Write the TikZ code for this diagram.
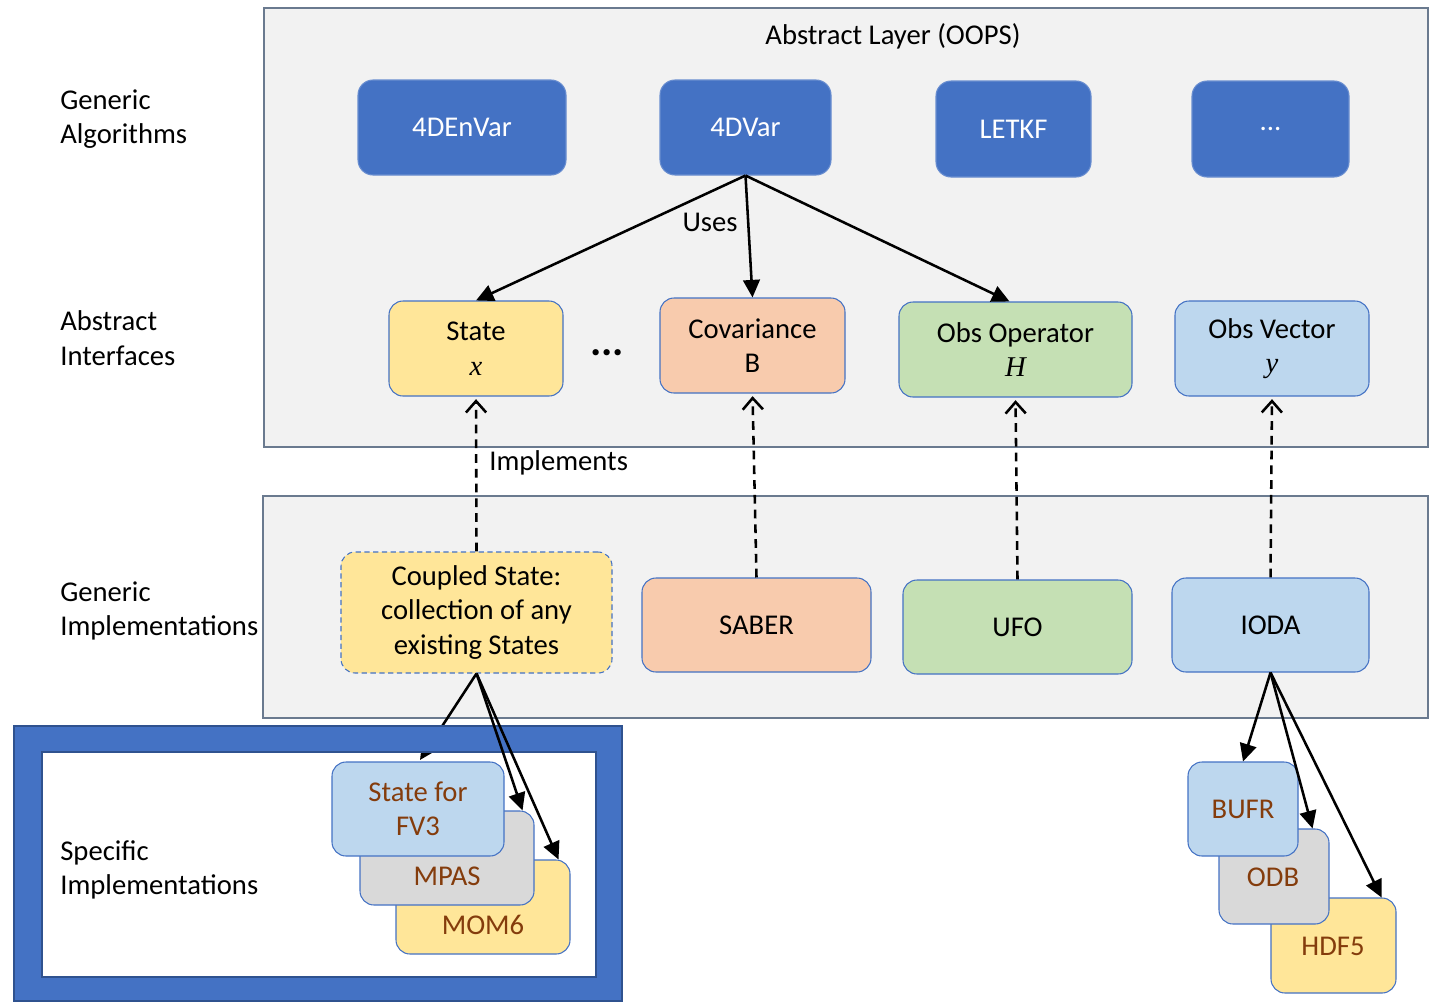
\documentclass[tikz,border=0pt]{standalone}
\usepackage{fontspec}
\setmainfont{Carlito}
\newfontfamily\serifmath{Liberation Serif}
\newcommand\mv[1]{{\serifmath\itshape #1}}
\usetikzlibrary{arrows.meta,calc}
\definecolor{blueA}{HTML}{4472C4}
\definecolor{blueD}{HTML}{2F528F}
\definecolor{yellowF}{HTML}{FFE699}
\definecolor{orangeF}{HTML}{F8CBAD}
\definecolor{greenF}{HTML}{C5E0B4}
\definecolor{lblueF}{HTML}{BDD7EE}
\definecolor{grayF}{HTML}{D9D9D9}
\definecolor{brownT}{HTML}{843C0C}
\definecolor{panelF}{HTML}{F2F2F2}
\definecolor{panelD}{HTML}{6A7A8F}
\begin{document}
\begin{tikzpicture}[x=0.02cm,y=-0.02cm,
  every node/.style={font=\fontsize{16.3}{19.6}\selectfont},
  sz/.style 2 args={minimum width=#1*0.02cm, minimum height=#2*0.02cm},
  panel/.style={draw=panelD, line width=0.8pt, fill=panelF, inner sep=0pt},
  algbox/.style={draw=blueA!80!white, line width=0.6pt, fill=blueA, text=white, rounded corners=0.3cm, inner sep=0pt, align=center},
  ifbox/.style={draw=blueA, line width=0.6pt, rounded corners=0.28cm, inner sep=0pt, align=center},
  specbox/.style={draw=blueA, line width=0.6pt, rounded corners=0.28cm, inner sep=0pt, align=center, text=brownT},
  lbl/.style={anchor=west, align=left, inner sep=0pt},
  usesarrow/.style={line width=1.45pt, -{Triangle[length=10pt,width=9.5pt]}},
  implarrow/.style={line width=1.45pt, dash pattern=on 5pt off 3.4pt, -{Straight Barb[length=6.5pt,width=11.5pt]}, shorten >=1.5pt}
]
\useasboundingbox (0,0) rectangle (1435,1001);

% panels
\node[panel, sz={1164}{439}] (toppanel) at (846,227.5) {};
\node[panel, sz={1165}{222}] (midpanel) at (845.5,607) {};

% title and side labels
\node (title) at (893,36) {Abstract Layer (OOPS)};
\node[lbl] (lga) at (60,119) {Generic\\Algorithms};
\node[lbl] (lai) at (60,338) {Abstract\\Interfaces};
\node[lbl] (lgi) at (60,611) {Generic\\Implementations};

% algorithm boxes
\node[algbox, sz={208}{95}] (envar) at (462,127.5) {4DEnVar};
\node[algbox, sz={171}{95}] (dvar) at (745.5,127.5) {4DVar};
\node[algbox, sz={155}{96}] (letkf) at (1013.5,129) {LETKF};
\node[algbox, sz={157}{96}] (more) at (1270.5,129) {...};

% interface boxes
\node[ifbox, fill=yellowF, sz={174}{95}] (state) at (476,348.5) {State\\\mv{x}};
\node[ifbox, fill=orangeF, sz={185}{95}] (cov) at (752.5,345.5) {Covariance\\B};
\node[ifbox, fill=greenF, sz={233}{95}] (obsop) at (1015.5,349.5) {Obs Operator\\\mv{H}};
\node[ifbox, fill=lblueF, sz={194}{95}] (obsvec) at (1272,348.5) {Obs Vector\\\mv{y}};
\node (dots) at (607,353) {\fontsize{24}{24}\selectfont\textbf{...}};

% uses arrows
\draw[usesarrow] (dvar.south) -- (state.north);
\draw[usesarrow] (dvar.south) -- (cov.north);
\draw[usesarrow] (dvar.south) -- ($(obsop.north)+(-6,0)$);
\node (uses) at (710,222) {Uses};

% generic implementations
\node[ifbox, fill=yellowF, dash pattern=on 3pt off 2pt, sz={271}{121}] (coupled) at (476.5,612.5) {Coupled State:\\collection of any\\existing States};
\node[ifbox, fill=orangeF, sz={229}{94}] (saber) at (756.5,625) {SABER};
\node[ifbox, fill=greenF, sz={229}{94}] (ufo) at (1017.5,627) {UFO};
\node[ifbox, fill=lblueF, sz={197}{94}] (ioda) at (1270.5,625) {IODA};

% implements arrows
\draw[implarrow] (coupled.north) -- (state.south);
\draw[implarrow] (saber.north) -- (cov.south);
\draw[implarrow] (ufo.north) -- (obsop.south);
\draw[implarrow] (ioda.north) -- (obsvec.south);
\node[anchor=west, inner sep=0pt] (impl) at (489,463) {Implements};

% specific implementations frame
\fill[white] (42,752) rectangle (596,977);
\coordinate (fvtop) at (420,760);
\draw[usesarrow] (coupled.south) -- (fvtop);
\fill[blueA, even odd rule] (14,726) rectangle (622,1001) (42,752) rectangle (596,977);
\draw[blueD, line width=0.6pt] (14,726) rectangle (622,1001) (42,752) rectangle (596,977);
\node[lbl] (lsi) at (60,870) {Specific\\Implementations};

\node[specbox, fill=yellowF, sz={174}{94}] (mom) at (483,907) {};
\node[text=brownT] (momt) at (483,925) {MOM6};
\node[specbox, fill=grayF, sz={174}{94}] (mpas) at (447,858) {};
\node[text=brownT] (mpast) at (447,876) {MPAS};
\node[specbox, fill=lblueF, sz={172}{94}] (fv) at (418,809) {State for\\FV3};

\draw[usesarrow] (coupled.south) -- ($(mpas.north east)+(-12,0)$);
\draw[usesarrow] (coupled.south) -- ($(mom.north east)+(-12,0)$);

% IODA back-ends
\node[specbox, fill=yellowF, sz={125}{95}] (hdf) at (1333.5,945.5) {};
\node[text=brownT] (hdft) at (1333,946) {HDF5};
\node[specbox, fill=grayF, sz={110}{95}] (odb) at (1274,876.5) {};
\node[text=brownT] (odbt) at (1273,877) {ODB};
\node[specbox, fill=lblueF, sz={110}{94}] (bufr) at (1243,809) {BUFR};

\draw[usesarrow] (ioda.south) -- (bufr.north);
\draw[usesarrow] (ioda.south) -- ($(odb.north east)+(-17,0)$);
\draw[usesarrow] (ioda.south) -- ($(hdf.north east)+(-15,0)$);
\end{tikzpicture}
\end{document}
